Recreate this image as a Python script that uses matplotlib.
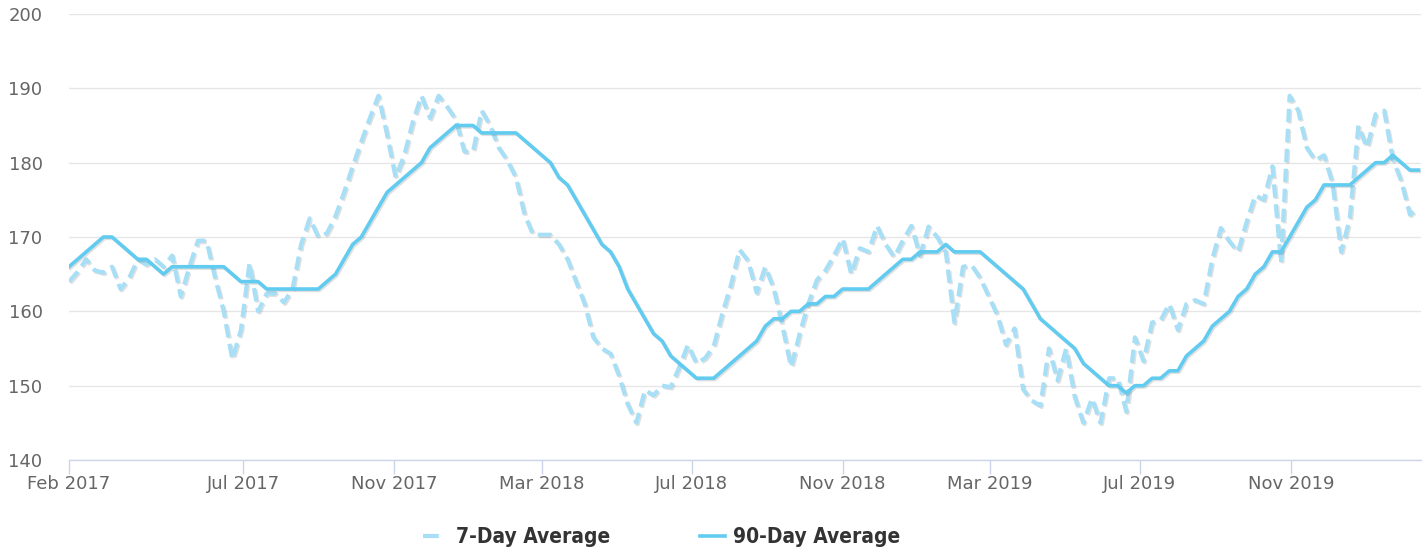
import matplotlib
matplotlib.use("Agg")
import matplotlib.pyplot as plt
import matplotlib.dates as mdates
import matplotlib.patheffects as pe
import pandas as pd
from matplotlib.lines import Line2D

# weekly readings, first week 2017-02-09
START = "2017-02-09"

avg_90 = [
    166, 167, 168, 169, 170, 170, 169, 168, 167, 167,
    166, 165, 166, 166, 166, 166, 166, 166, 166, 165,
    164, 164, 164, 163, 163, 163, 163, 163, 163, 163,
    164, 165, 167, 169, 170, 172, 174, 176, 177, 178,
    179, 180, 182, 183, 184, 185, 185, 185, 184, 184,
    184, 184, 184, 183, 182, 181, 180, 178, 177, 175,
    173, 171, 169, 168, 166, 163, 161, 159, 157, 156,
    154, 153, 152, 151, 151, 151, 152, 153, 154, 155,
    156, 158, 159, 159, 160, 160, 161, 161, 162, 162,
    163, 163, 163, 163, 164, 165, 166, 167, 167, 168,
    168, 168, 169, 168, 168, 168, 168, 167, 166, 165,
    164, 163, 161, 159, 158, 157, 156, 155, 153, 152,
    151, 150, 150, 149, 150, 150, 151, 151, 152, 152,
    154, 155, 156, 158, 159, 160, 162, 163, 165, 166,
    168, 168, 170, 172, 174, 175, 177, 177, 177, 177,
    178, 179, 180, 180, 181, 180, 179, 179,
]

avg_7 = [
    164, 165.3, 167, 165.5, 165.2, 166, 163, 164.5, 167, 166.3,
    167, 166, 167.5, 162, 166, 169.5, 169.5, 164.5, 160, 153.5,
    157.5, 166.5, 160, 162.4, 162.4, 161.2, 163, 169, 172.5, 170,
    170.5, 172.8, 176, 179.5, 182.8, 186, 189, 183.8, 178, 181,
    185.5, 189, 186, 189, 187.5, 185.8, 181.5, 181.5, 187, 185,
    182, 180.3, 178, 173, 170.3, 170.3, 170.3, 169, 167, 164,
    161, 156.5, 155, 154.3, 151.3, 147.5, 145, 149.4, 148.7, 150,
    149.8, 152.5, 155.5, 153, 153.7, 155.3, 159.7, 163.5, 168.3, 166.8,
    162.5, 166, 163, 158, 152.5, 157, 161, 164.2, 165.5, 167.5,
    169.8, 165, 168.5, 168, 171.5, 169, 167.3, 169.5, 171.5, 167.5,
    171.4, 170, 168, 158.5, 166, 166.2, 164.5, 162, 159.5, 155.5,
    157.7, 149.5, 148, 147.3, 155, 150.7, 155, 148.5, 145, 148.3,
    145, 151, 151, 146.5, 156.5, 153.3, 158.5, 158.8, 161, 157.5,
    161, 161.5, 161, 167, 171.2, 169.4, 168, 172, 175.6, 175,
    179.5, 166.5, 189, 187, 182, 180.3, 181, 177.2, 168, 172.5,
    185, 182, 186.5, 187, 180.5, 177.5, 173, 174,
]

tick_dates = ["2017-07-01", "2017-11-01", "2018-03-01", "2018-07-01",
              "2018-11-01", "2019-03-01", "2019-07-01", "2019-11-01"]
labels = ["7-Day Average", "90-Day Average"]

dates = pd.date_range(START, periods=len(avg_90), freq="7D")

c_solid = "#62cbf0"
c_dash = "#a6dff6"
shadow = [pe.SimpleLineShadow(offset=(1, -1), shadow_color="k", alpha=0.12),
          pe.Normal()]

fig = plt.figure(figsize=(14.24, 5.54), dpi=100)
ax = fig.add_axes([69 / 1424, 94 / 554, 1352 / 1424, 446 / 554])

ax.plot(dates, avg_7, color=c_dash, lw=3.0, dashes=(3.2, 1.6),
        dash_capstyle="butt", path_effects=shadow, zorder=3)
ax.plot(dates, avg_90, color=c_solid, lw=2.6, solid_joinstyle="round",
        path_effects=shadow, zorder=4)

ax.set_ylim(140, 200)
ax.set_yticks(range(140, 201, 10))
ax.set_xlim(dates[0], dates[0] + pd.Timedelta(days=1101))
ax.set_xticks([dates[0]] + [pd.Timestamp(d) for d in tick_dates])
ax.xaxis.set_major_formatter(mdates.DateFormatter("%b %Y"))

ax.grid(axis="y", color="#e6e6e6", lw=1)
ax.set_axisbelow(True)
for s in ("top", "right", "left"):
    ax.spines[s].set_visible(False)
ax.spines["bottom"].set_color("#ccd6eb")
ax.spines["bottom"].set_linewidth(1)

ax.tick_params(axis="y", length=0, pad=19, labelsize=13, labelcolor="#666666")
ax.tick_params(axis="x", length=10, width=1, color="#ccd6eb", pad=0.5,
               labelsize=13, labelcolor="#666666")

# legend symbols: only the first dash of the dashed series shows
handles = [
    Line2D([], [], color=c_dash, lw=3.0, dashes=(3.8, 5), dash_capstyle="butt"),
    Line2D([], [], color=c_solid, lw=2.6),
]
fig.legend(handles, labels, loc="center", bbox_to_anchor=(0.4645, 1 - 537 / 554),
           ncol=2, frameon=False, handlelength=1.2, handletextpad=0.38,
           columnspacing=4.3,
           prop={"family": "DejaVu Sans", "stretch": "condensed",
                 "weight": "bold", "size": 15})
for t in fig.legends[0].get_texts():
    t.set_color("#333333")

fig.savefig("out.png", dpi=100)
